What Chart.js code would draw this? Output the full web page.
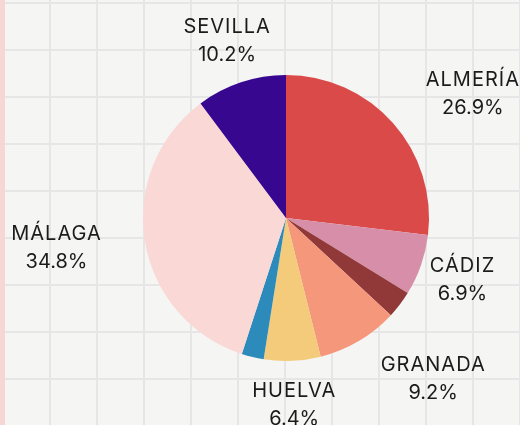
<!DOCTYPE html>
<html>
<head>
<meta charset="utf-8">
<script src="https://cdn.jsdelivr.net/npm/chart.js@4/dist/chart.umd.min.js"></script>
<style>
    body { margin: 0; }
    .paper {
        position: relative;
        width: 520px;
        height: 425px;
        overflow: hidden;
        background-color: #f5f5f4;
        background-image:
            linear-gradient(to right, transparent 1px, #e6e6e6 1px, #e6e6e6 3px, transparent 3px),
            linear-gradient(to bottom, transparent 1px, #e6e6e6 1px, #e6e6e6 3px, transparent 3px);
        background-size: 47px 47px;
        background-position: 1px 1px;
    }
    .paper::before {
        content: "";
        position: absolute;
        left: 0; top: 0; bottom: 0;
        width: 5px;
        background: #f8d6d4;
    }
    canvas { position: absolute; left: 0; top: 0; }
</style>
</head>
<body>
<div class="paper">
    <canvas id="pieChart" width="520" height="425"></canvas>
</div>
<script>
// Provinces and share (%)
const provinces = ["ALMERÍA", "CÁDIZ", "CÓRDOBA", "GRANADA", "HUELVA", "JAÉN", "MÁLAGA", "SEVILLA"];
const shares = [26.9, 6.9, 3.1, 9.2, 6.4, 2.5, 34.8, 10.2];
const sliceColors = ["#d94a48", "#d78fa9", "#913838", "#f4977a", "#f4cb7a", "#2c8bba", "#f9d8d6", "#37078f"];

// Draws "NAME / xx.x%" outside each big enough slice
const outsideLabels = {
    id: "outsideLabels",
    afterDatasetsDraw(chart, args, opts) {
        const ctx = chart.ctx;
        const meta = chart.getDatasetMeta(0);
        ctx.save();
        ctx.font = opts.font;
        ctx.fillStyle = opts.color;
        ctx.textAlign = "center";
        ctx.textBaseline = "middle";
        meta.data.forEach((arc, i) => {
            const value = chart.data.datasets[0].data[i];
            if (value < opts.minValue) return;
            const name = chart.data.labels[i];
            const mid = (arc.startAngle + arc.endAngle) / 2;
            const r = arc.outerRadius + opts.offset;
            const x = arc.x + Math.cos(mid) * r + (opts.nudgeX[name] || 0);
            const y = arc.y + Math.sin(mid) * r;
            ctx.letterSpacing = "1px";
            ctx.fillText(name, x, y - opts.lineGap / 2);
            ctx.letterSpacing = "0px";
            ctx.fillText(value.toFixed(1) + "%", x, y + opts.lineGap / 2);
        });
        ctx.restore();
    }
};

new Chart(document.getElementById("pieChart").getContext("2d"), {
    type: "pie",
    data: {
        labels: provinces,
        datasets: [{
            data: shares,
            backgroundColor: sliceColors,
            borderWidth: 0
        }]
    },
    options: {
        responsive: false,
        animation: false,
        layout: { padding: { top: 75, bottom: 64, left: 100, right: 48 } },
        plugins: {
            legend: { display: false },
            tooltip: { enabled: false },
            outsideLabels: {
                font: "20px Inter",
                color: "#1b1b1b",
                minValue: 5,
                offset: 44,
                lineGap: 28,
                nudgeX: { "ALMERÍA": 47, "GRANADA": 52, "MÁLAGA": -45 }
            }
        }
    },
    plugins: [outsideLabels]
});
</script>
</body>
</html>
